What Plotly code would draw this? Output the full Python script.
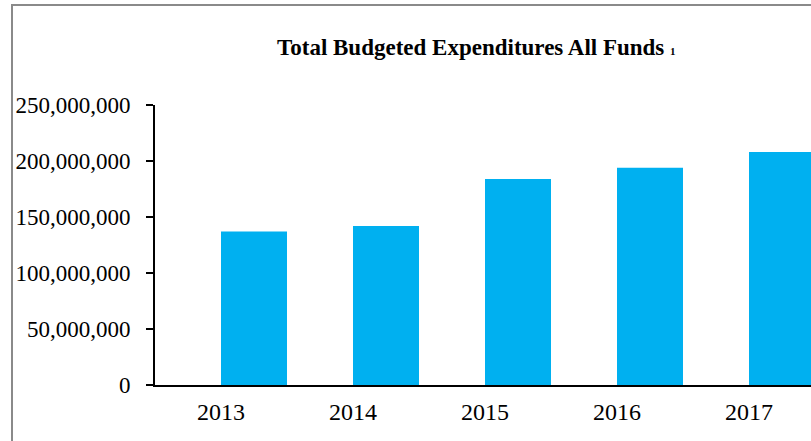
import plotly.graph_objects as go

years = ["2013", "2014", "2015", "2016", "2017"]
expenditures = [137_000_000, 142_000_000, 184_000_000, 194_000_000, 208_000_000]
y_ticks = [0, 50_000_000, 100_000_000, 150_000_000, 200_000_000, 250_000_000]
y_tick_labels = ["0", "50,000,000", "100,000,000", "150,000,000", "200,000,000", "250,000,000"]

W, H = 811, 441
ML, MR, MT, MB = 155, 0, 105, 56
pw, ph = W - ML - MR, H - MT - MB

def px_x(x):
    return (x - ML) / pw

def px_y(y):
    return (H - MB - y) / ph

fig = go.Figure()
fig.add_trace(go.Bar(
    x=list(range(len(years))),
    y=expenditures,
    width=0.5,
    offset=0,
    marker=dict(color="#00B0F0", line=dict(width=0)),
    showlegend=False,
    hoverinfo="skip",
))

fig.update_layout(
    width=W, height=H,
    margin=dict(l=ML, r=MR, t=MT, b=MB, pad=0),
    paper_bgcolor="white",
    plot_bgcolor="white",
    font=dict(family="Liberation Serif, Times New Roman, serif", color="black", size=23),
    bargap=0.5,
    xaxis=dict(
        range=[-0.5, -0.5 + pw / 132.0],
        tickmode="array",
        tickvals=list(range(len(years))),
        ticktext=years,
        showgrid=False,
        zeroline=False,
        showline=True,
        linecolor="black",
        linewidth=2,
        ticks="",
        tickfont=dict(size=24),
        ticklabelstandoff=4,
    ),
    yaxis=dict(
        range=[0, 250_000_000],
        tickmode="array",
        tickvals=y_ticks,
        ticktext=y_tick_labels,
        showgrid=False,
        zeroline=False,
        showline=True,
        linecolor="black",
        linewidth=2,
        ticks="outside",
        ticklen=7,
        tickwidth=1.5,
        tickcolor="black",
        tickfont=dict(size=23),
        ticklabelstandoff=11,
    ),
    shapes=[
        dict(type="rect", xref="paper", yref="paper",
             x0=px_x(12), x1=px_x(W + 20), y0=px_y(H + 20), y1=px_y(5),
             line=dict(color="#8a8a8a", width=2), fillcolor="rgba(0,0,0,0)", layer="below"),
    ],
    annotations=[
        dict(text="<b>Total Budgeted Expenditures All Funds</b> <b><span style='font-size:11px'>1</span></b>",
             xref="paper", yref="paper", x=px_x(476), y=px_y(47),
             xanchor="center", yanchor="middle", showarrow=False,
             font=dict(size=23, family="Liberation Serif, Times New Roman, serif", color="black")),
    ],
)

fig.write_html("out.html")
